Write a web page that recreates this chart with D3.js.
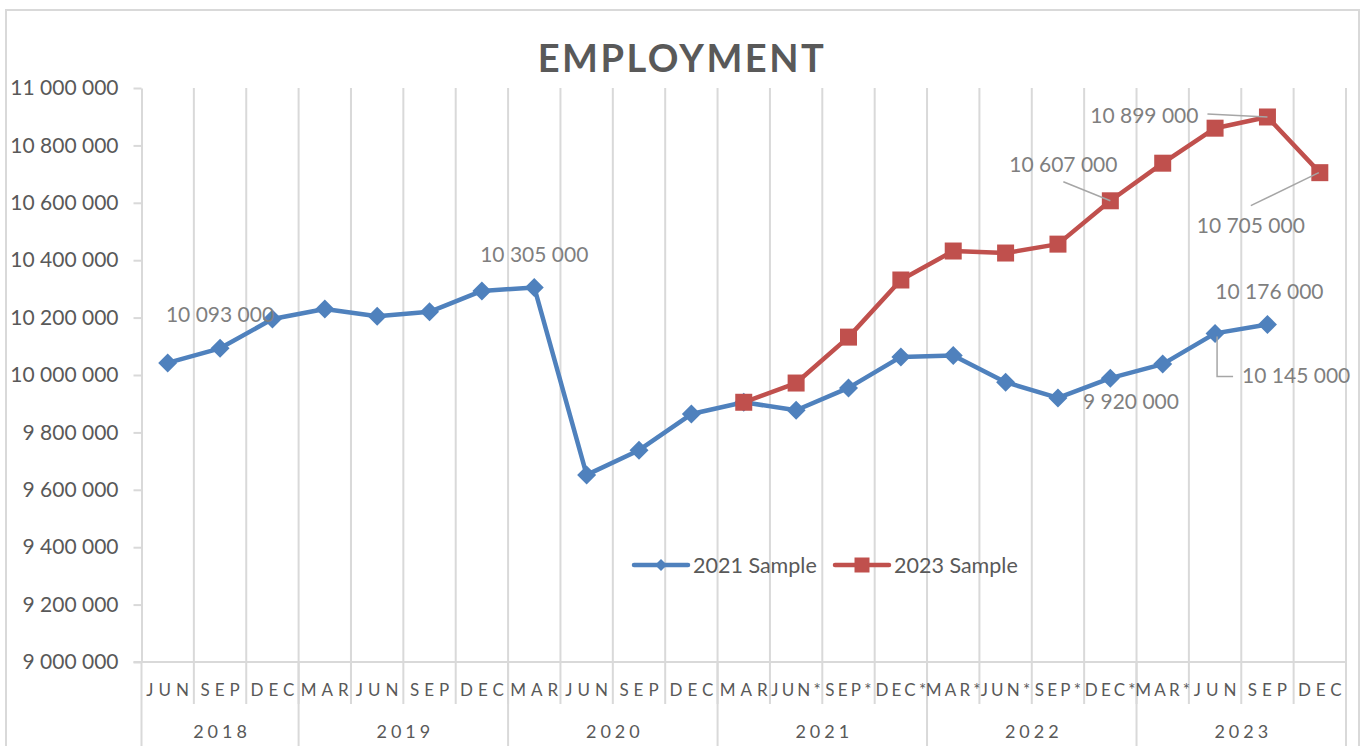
<!DOCTYPE html>
<html>
<head>
<meta charset="utf-8">
<script src="https://cdn.jsdelivr.net/npm/d3@7"></script>
<style>
  html, body { margin: 0; padding: 0; background: #fff; }
  svg { display: block; font-family: Lato, "Open Sans", sans-serif; }
</style>
</head>
<body>
<svg id="s" width="1365" height="746"></svg>
<script>
// quarter labels along the axis, grouped by year
var quarters = ["JUN","SEP","DEC","MAR","JUN","SEP","DEC","MAR","JUN","SEP","DEC",
                "MAR","JUN*","SEP*","DEC*","MAR*","JUN*","SEP*","DEC*","MAR*","JUN","SEP","DEC"];
var years = ["2018","2019","2020","2021","2022","2023"];
var quartersPerYear = [3, 4, 4, 4, 4, 4];

var sample2021 = [10042000, 10093000, 10195000, 10230000, 10205000, 10220000, 10293000, 10305000,
                  9652000, 9738000, 9864000, 9905000, 9877000, 9955000, 10063000, 10068000,
                  9975000, 9920000, 9989000, 10038000, 10145000, 10176000, null];
var sample2023 = [null, null, null, null, null, null, null, null, null, null, null,
                  9905000, 9972000, 10132000, 10331000, 10432000, 10425000, 10456000,
                  10607000, 10738000, 10860000, 10899000, 10705000];

var seriesNames = ["2021 Sample", "2023 Sample"];
var yTicks = [9000000, 9200000, 9400000, 9600000, 9800000, 10000000,
              10200000, 10400000, 10600000, 10800000, 11000000];

// which points carry a value label
var labelled2021 = [1, 7, 17, 20, 21];
var labelled2023 = [18, 21, 22];

var blue = "#4f81bd", red = "#c0504d", grid = "#d9d9d9", txt = "#595959", lblc = "#7f7f7f";

var svg = d3.select("#s");
var fmt = d3.formatLocale({decimal: ".", thousands: " ", grouping: [3], currency: ["", ""]}).format(",");

var pLeft = 141.5, pRight = 1346, pTop = 88, pBottom = 662;

var x = d3.scaleBand().domain(d3.range(quarters.length)).range([pLeft, pRight]).padding(0);
var y = d3.scaleLinear().domain([9000000, 11000000]).range([pBottom, pTop]);
var cx = function(i) { return x(i) + x.bandwidth() / 2; };

// outer frame
svg.append("rect").attr("x", 6).attr("y", 10).attr("width", 1353).attr("height", 760)
   .attr("fill", "none").attr("stroke", grid).attr("stroke-width", 2);

// title
svg.append("text").attr("x", 682).attr("y", 72).attr("text-anchor", "middle")
   .attr("font-size", 38).attr("font-weight", "bold").attr("fill", txt)
   .attr("letter-spacing", 2.5).text("EMPLOYMENT");

// vertical gridlines at category boundaries
var bounds = d3.range(1, quarters.length + 1).map(function(i) { return pLeft + i * x.bandwidth(); });
svg.append("g").selectAll("line").data(bounds).enter().append("line")
   .attr("x1", function(d) { return d; }).attr("x2", function(d) { return d; })
   .attr("y1", pTop).attr("y2", 704)
   .attr("stroke", grid).attr("stroke-width", 2);

// year separators run to the bottom
var yearEdges = [0];
quartersPerYear.forEach(function(n, k) { yearEdges.push(yearEdges[k] + n); });
svg.append("g").selectAll("line").data(yearEdges).enter().append("line")
   .attr("x1", function(d) { return pLeft + d * x.bandwidth(); })
   .attr("x2", function(d) { return pLeft + d * x.bandwidth(); })
   .attr("y1", pBottom).attr("y2", 746)
   .attr("stroke", grid).attr("stroke-width", 2);

// y axis
var yAxis = svg.append("g").attr("transform", "translate(" + pLeft + ",0)")
   .call(d3.axisLeft(y).tickValues(yTicks).tickSize(8).tickSizeOuter(0).tickPadding(15).tickFormat(fmt));
yAxis.select(".domain").attr("stroke", grid).attr("stroke-width", 2);
yAxis.selectAll(".tick line").attr("stroke", grid).attr("stroke-width", 2);
yAxis.selectAll(".tick text").attr("font-size", 21).attr("fill", txt)
   .attr("font-family", "Lato, 'Open Sans', sans-serif");

// x axis baseline
svg.append("line").attr("x1", pLeft - 8).attr("x2", pRight).attr("y1", pBottom).attr("y2", pBottom)
   .attr("stroke", grid).attr("stroke-width", 2);

// quarter labels (starred ones a bit tighter so they fit their slot)
svg.append("g").selectAll("text").data(quarters).enter().append("text")
   .attr("x", function(d, i) { return cx(i) + (d.indexOf("*") >= 0 ? 1.5 : 2.5); })
   .attr("y", 696).attr("text-anchor", "middle")
   .attr("font-size", 17)
   .attr("letter-spacing", function(d) { return d.indexOf("*") >= 0 ? 3.2 : 5; })
   .attr("fill", txt)
   .text(function(d) { return d; });

// year labels
svg.append("g").selectAll("text").data(years).enter().append("text")
   .attr("x", function(d, k) { return pLeft + (yearEdges[k] + yearEdges[k + 1]) / 2 * x.bandwidth() + 2; })
   .attr("y", 738).attr("text-anchor", "middle")
   .attr("font-size", 18).attr("letter-spacing", 4).attr("fill", txt)
   .text(function(d) { return d; });

// lines
var line = d3.line()
   .defined(function(d) { return d != null; })
   .x(function(d, i) { return cx(i); })
   .y(function(d) { return y(d); });

var diamond = function(s) { return "M0," + (-s) + "L" + s + ",0L0," + s + "L" + (-s) + ",0Z"; };
var square = function(s) { return "M" + (-s) + "," + (-s) + "h" + (2 * s) + "v" + (2 * s) + "h" + (-2 * s) + "Z"; };

function drawSeries(vals, color, shape) {
  svg.append("path").datum(vals).attr("d", line)
     .attr("fill", "none").attr("stroke", color).attr("stroke-width", 4.5)
     .attr("stroke-linejoin", "round").attr("stroke-linecap", "round");
  var pts = vals.map(function(v, i) { return {v: v, i: i}; }).filter(function(p) { return p.v != null; });
  svg.append("g").selectAll("path").data(pts).enter().append("path")
     .attr("transform", function(p) { return "translate(" + cx(p.i) + "," + y(p.v) + ")"; })
     .attr("d", shape).attr("fill", color);
}
drawSeries(sample2021, blue, diamond(9.5));
drawSeries(sample2023, red, square(8.5));

// value labels: offsets from the point, plus optional leader line
var place2021 = {
  1:  {dx: 0, dy: -26, anchor: "middle"},
  7:  {dx: 0, dy: -25, anchor: "middle"},
  17: {dx: 25, dy: 11, anchor: "start"},
  20: {dx: 27, dy: 50, anchor: "start", leader: [[2, 3], [2, 43], [18, 43]]},
  21: {dx: 2, dy: -25, anchor: "middle"}
};
var place2023 = {
  18: {dx: -47, dy: -29, anchor: "middle", leader: [[-47, -19], [0, 0]]},
  21: {dx: -69, dy: 6, anchor: "end", leader: [[-60, -3], [0, 0]]},
  22: {dx: -69, dy: 60, anchor: "middle", leader: [[-69, 33], [-1, 0]]}
};

function drawLabels(vals, idx, place) {
  idx.forEach(function(i) {
    var p = place[i], px = cx(i), py = y(vals[i]);
    if (p.leader) {
      svg.append("path")
         .attr("d", d3.line()(p.leader.map(function(q) { return [px + q[0], py + q[1]]; })))
         .attr("fill", "none").attr("stroke", "#a6a6a6").attr("stroke-width", 1.5);
    }
    svg.append("text").attr("x", px + p.dx).attr("y", py + p.dy)
       .attr("text-anchor", p.anchor).attr("font-size", 21).attr("fill", lblc)
       .text(fmt(vals[i]));
  });
}
drawLabels(sample2021, labelled2021, place2021);
drawLabels(sample2023, labelled2023, place2023);

// legend
var legend = svg.append("g");
var legendItems = [
  {name: seriesNames[0], color: blue, x: 634, shape: diamond(6)},
  {name: seriesNames[1], color: red, x: 835, shape: square(7.5)}
];
legendItems.forEach(function(it) {
  legend.append("line").attr("x1", it.x).attr("x2", it.x + 54).attr("y1", 565).attr("y2", 565)
     .attr("stroke", it.color).attr("stroke-width", 4.5).attr("stroke-linecap", "round");
  legend.append("path").attr("transform", "translate(" + (it.x + 27) + ",565)")
     .attr("d", it.shape).attr("fill", it.color);
  legend.append("text").attr("x", it.x + 59).attr("y", 572.5)
     .attr("font-size", 21.5).attr("fill", txt).text(it.name);
});
</script>
</body>
</html>
